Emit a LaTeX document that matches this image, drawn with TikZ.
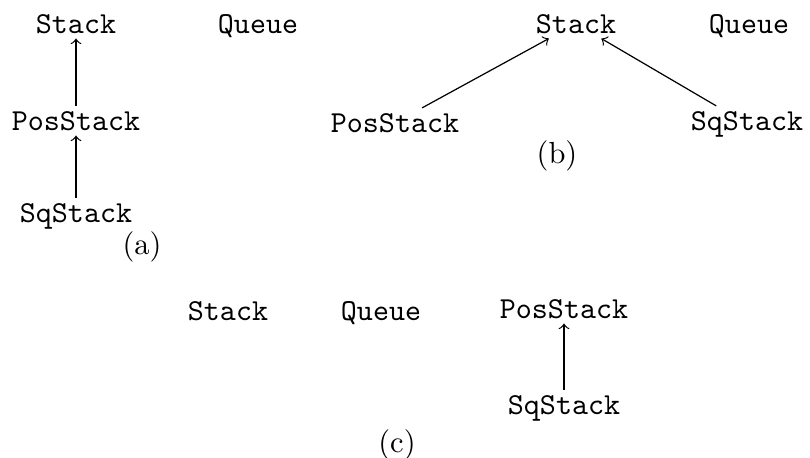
\documentclass[tikz,border=0pt]{standalone}
\usetikzlibrary{arrows}

\begin{document}
\begin{tikzpicture}[x=0.328pt,y=0.328pt,yscale=-1,xscale=1]
\tikzset{cls/.style={font=\ttfamily,inner sep=1.5pt,anchor=base},
  sublabel/.style={anchor=base,inner sep=0.75pt}}
\useasboundingbox (0,0) rectangle (810,457);

%(a)
\node [cls] (sa) at (76,33) {Stack};
\node [cls] (qa) at (258,33) {Queue};
\node [cls] (pa) at (76,130) {PosStack};
\node [cls] (qsa) at (76,222) {SqStack};
\node [sublabel] (la) at (142,254) {(a)};
\draw [->] (qsa) -- (pa);
\draw [->] (pa) -- (sa);

%(b)
\node [cls] (sb) at (576,33) {Stack};
\node [cls] (qb) at (749,33) {Queue};
\node [cls] (pb) at (395,132) {PosStack};
\node [cls] (qsb) at (747,130) {SqStack};
\node [sublabel] (lb) at (557,163) {(b)};
\draw [->] (pb) -- (sb);
\draw [->] (qsb) -- (sb);

%(c)
\node [cls] (sc) at (228,320) {Stack};
\node [cls] (qc) at (381,320) {Queue};
\node [cls] (pc) at (564,318) {PosStack};
\node [cls] (qsc) at (564,414) {SqStack};
\node [sublabel] (lc) at (397,452) {(c)};
\draw [->] (qsc) -- (pc);

\end{tikzpicture}
\end{document}
